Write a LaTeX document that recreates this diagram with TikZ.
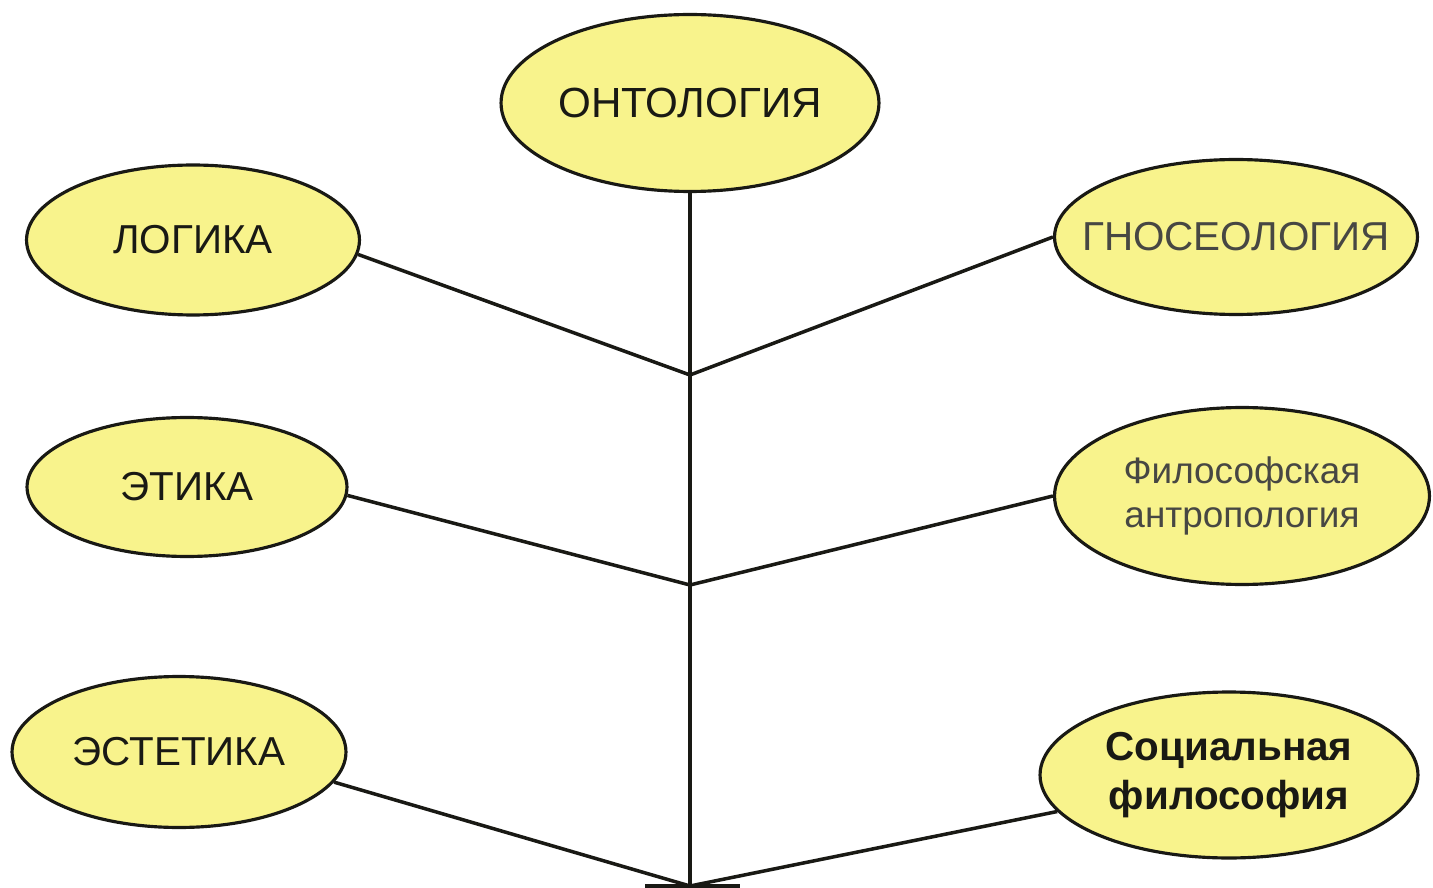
\documentclass[tikz,border=0pt]{standalone}
\usepackage{fontspec}
\setmainfont{Liberation Sans}
\usetikzlibrary{shapes.geometric}
\definecolor{branchfill}{RGB}{248,243,140}
\definecolor{ink}{RGB}{25,25,20}
\begin{document}
\begin{tikzpicture}[x=0.02cm, y=-0.02cm]
        \tikzstyle{blk} = [draw, ink, line width=2pt]
        \tikzstyle{branch} = [ellipse, draw=ink, line width=1.8pt, fill=branchfill, text=ink, inner xsep=-20pt, inner ysep=-10pt, align=center, font=\fontsize{23}{27}\selectfont]
        \useasboundingbox (0, 0) rectangle (1433, 888);
        
        \node[branch, minimum width=7.56cm, minimum height=3.54cm, font=\fontsize{24}{28}\selectfont] (ontology) at (690, 103) {ОНТОЛОГИЯ};
        \node[branch, minimum width=6.66cm, minimum height=3.0cm] (logic) at (193, 240) {ЛОГИКА};
        \node[branch, minimum width=7.26cm, minimum height=3.1cm, text=ink!80] (gnoseology) at (1236, 237) {ГНОСЕОЛОГИЯ};
        \node[branch, minimum width=6.4cm, minimum height=2.78cm] (ethics) at (187, 487) {ЭТИКА};
        \node[branch, minimum width=7.5cm, minimum height=3.54cm, text=ink!80, font=\fontsize{21}{25}\selectfont] (anthropology) at (1242, 496) {Философская\\антропология};
        \node[branch, minimum width=6.68cm, minimum height=3.02cm] (aesthetics) at (179, 752) {ЭСТЕТИКА};
        \node[branch, minimum width=7.56cm, minimum height=3.32cm, font=\fontsize{23}{28}\bfseries\selectfont] (social) at (1229, 775) {Социальная\\философия};
        
        \coordinate (fork top) at (690, 375);
        \coordinate (fork mid) at (690, 585);
        \coordinate (fork low) at (690, 886);
        \coordinate (base left) at (645, 887);
        \coordinate (base right) at (740, 887);
        
        \path[blk] (ontology) to (fork top);
        \path[blk] (fork top) to (fork mid);
        \path[blk] (fork mid) to (fork low);
        \path[blk] (logic.-5) to (fork top);
        \path[blk] (gnoseology.180) to (fork top);
        \path[blk] (ethics.-3) to (fork mid);
        \path[blk] (anthropology.180) to (fork mid);
        \path[blk] (aesthetics.-11) to (fork low);
        \path[blk] (social.192) to (fork low);
        \path[blk, line width=3pt] (base left) to (base right);
    \end{tikzpicture}
\end{document}
